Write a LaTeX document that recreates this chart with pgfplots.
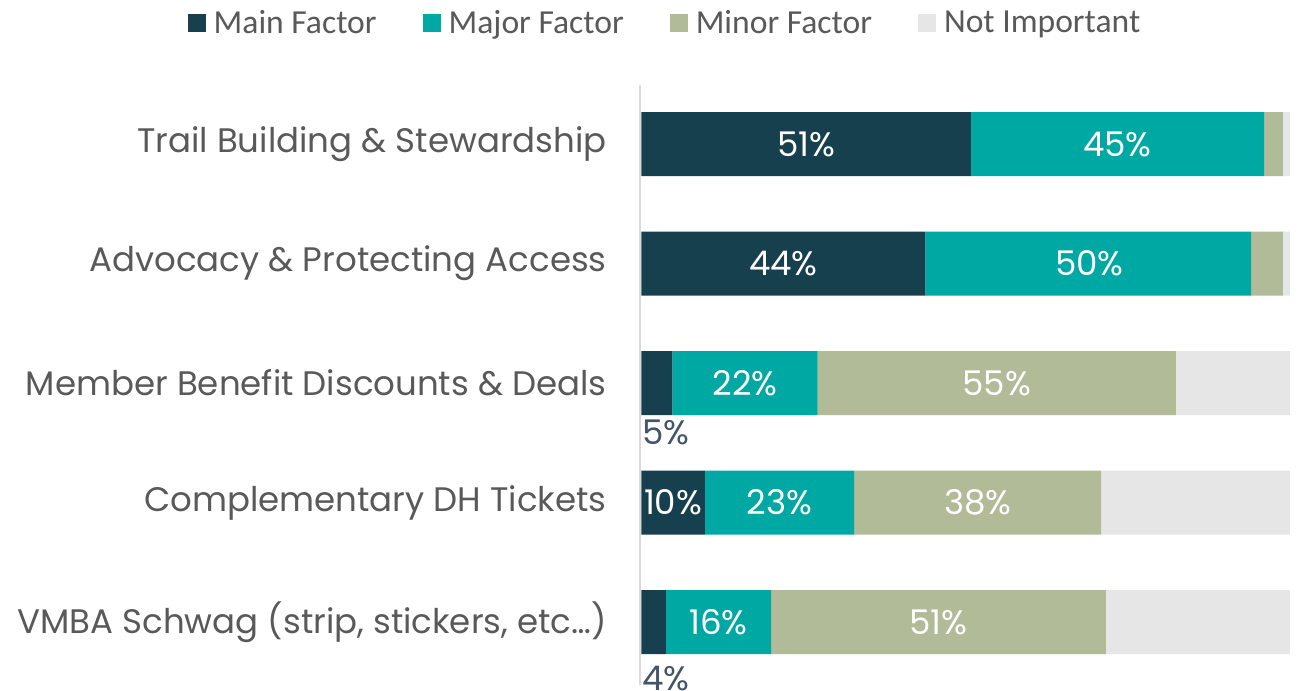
\documentclass[border=0pt]{standalone}
\usepackage{pgfplots}
\pgfplotsset{compat=1.18}
\usepackage{fontspec}
\setmainfont{Poppins}
\newfontfamily\legfont{Carlito}
\definecolor{cMain}{RGB}{23,64,79}
\definecolor{cMajor}{RGB}{0,168,163}
\definecolor{cMinor}{RGB}{177,187,152}
\definecolor{cNot}{RGB}{230,230,230}
\definecolor{txtgray}{RGB}{89,89,89}
\definecolor{lblgray}{RGB}{68,84,106}
\definecolor{axgray}{RGB}{217,217,217}
\begin{document}
\begin{tikzpicture}
\begin{axis}[
  name=ax, at={(0,0)}, anchor=south west,
  scale only axis, width=325pt, height=300pt,
  xbar stacked, bar width=32pt,
  xmin=-0.2, xmax=100, ymin=0.506, ymax=5.527, y dir=reverse,
  axis x line=none, axis y line*=left,
  axis line style={-, draw=axgray, line width=0.8pt},
  ytick={1,2,3,4,5},
  yticklabels={Trail Building \& Stewardship, Advocacy \& Protecting Access, Member Benefit Discounts \& Deals, Complementary DH Tickets, {VMBA Schwag (strip, stickers, etc…)}},
  major tick length=0pt,
  yticklabel style={anchor=east, inner sep=0pt, xshift=-16.5pt, font=\fontsize{17}{20}\selectfont, text=txtgray},
  legend columns=4,
  legend style={draw=none, at={(0.04,1.103)}, anchor=center, font=\legfont\fontsize{16.8}{19}\selectfont, text=txtgray, /tikz/every even column/.append style={column sep=21pt}},
  legend cell align=left,
  legend image code/.code={\fill[#1] (0pt,-4.5pt) rectangle (9pt,4.5pt);},
  clip=false,
]
\addplot[fill=cMain, draw=none] coordinates {(50.8,1) (43.8,2) (4.8,3) (9.8,4) (3.8,5)};
\addplot[fill=cMajor, draw=none] coordinates {(45.2,1) (50.2,2) (22.4,3) (23.0,4) (16.2,5)};
\addplot[fill=cMinor, draw=none] coordinates {(2.9,1) (4.9,2) (55.2,3) (38.1,4) (51.6,5)};
\addplot[fill=cNot, draw=none] coordinates {(1.1,1) (1.1,2) (17.6,3) (29.1,4) (28.4,5)};
\legend{\hspace{2pt}Main Factor, \hspace{2pt}Major Factor, \hspace{2pt}Minor Factor, \hspace{2pt}Not Important}
\end{axis}
\begin{axis}[
  at={(0,0)}, anchor=south west,
  scale only axis, width=325pt, height=300pt,
  xmin=-0.2, xmax=100, ymin=0.506, ymax=5.527, y dir=reverse,
  hide axis, clip=false,
]
\addplot[draw=none, mark=none, nodes near coords, point meta=explicit symbolic,
  every node near coord/.style={anchor=center, inner sep=0pt, text=white, font=\fontsize{17}{20}\selectfont}]
  coordinates {(25.4,1)[51\%] (73.4,1)[45\%] (21.9,2)[44\%] (69.1,2)[50\%]
   (16,3)[22\%] (54.8,3)[55\%] (4.9,4)[10\%] (21.3,4)[23\%] (51.9,4)[38\%]
   (11.9,5)[16\%] (45.8,5)[51\%]};
\addplot[draw=none, mark=none, nodes near coords, point meta=explicit symbolic,
  every node near coord/.style={anchor=west, inner sep=0pt, text=lblgray, font=\fontsize{17}{20}\selectfont}]
  coordinates {(0.1,3.41)[5\%] (0.1,5.47)[4\%]};
\end{axis}
\pgfresetboundingbox
\path (-320pt,-3pt) rectangle (329pt,342.5pt);
\end{tikzpicture}
\end{document}
